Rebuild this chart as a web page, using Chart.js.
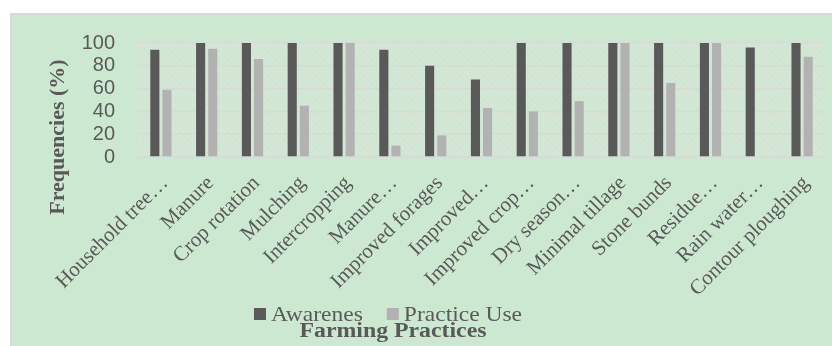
<!DOCTYPE html>
<html>
<head>
<meta charset="utf-8">
<script src="https://cdn.jsdelivr.net/npm/chart.js"></script>
<style>
  body { margin: 0; background: #fff; }
  #box {
    position: absolute; left: 10px; top: 13px;
    width: 820px; height: 331px;
    border-left: 2px solid #d9d9d9; border-top: 2px solid #d9d9d9;
    background: #cde8d1;
  }
</style>
</head>
<body>
<div id="box"><canvas id="practiceChart"></canvas></div>
<script>
  const categories = ["Household tree…", "Manure", "Crop rotation", "Mulching", "Intercropping",
    "Manure…", "Improved forages", "Improved…", "Improved crop…", "Dry season…",
    "Minimal tillage", "Stone bunds", "Residue…", "Rain water…", "Contour ploughing"];
  const awareness = [94, 100, 100, 100, 100, 94, 80, 68, 100, 100, 100, 100, 100, 96, 100];
  const practiceUse = [59, 95, 86, 45, 100, 10, 19, 43, 40, 49, 100, 65, 100, 0, 88];
  const yTicks = [0, 20, 40, 60, 80, 100];

  const textColor = "#595959";
  const serif = "'Liberation Serif', 'Times New Roman', serif";

  // diagonal hatch behind the bars
  const hatchPlugin = {
    id: "hatch",
    beforeDraw(chart) {
      const { ctx, chartArea: a } = chart;
      const p = document.createElement("canvas");
      p.width = 6; p.height = 6;
      const pc = p.getContext("2d");
      pc.strokeStyle = "rgba(226,226,222,0.75)";
      pc.lineWidth = 1.5;
      pc.beginPath();
      pc.moveTo(-1, -1); pc.lineTo(7, 7);
      pc.moveTo(-4, 2); pc.lineTo(4, 10);
      pc.moveTo(2, -4); pc.lineTo(10, 4);
      pc.stroke();
      ctx.save();
      ctx.fillStyle = ctx.createPattern(p, "repeat");
      ctx.fillRect(a.left, a.top, a.right - a.left, a.bottom - a.top);
      ctx.restore();
    }
  };

  // axis titles and legend, placed like the Excel original
  const textPlugin = {
    id: "excelText",
    afterDraw(chart) {
      const ctx = chart.ctx;
      ctx.save();
      ctx.fillStyle = textColor;

      // y title
      ctx.save();
      ctx.translate(46, 122);
      ctx.rotate(-Math.PI / 2);
      ctx.font = "bold 22px " + serif;
      ctx.textAlign = "center";
      ctx.textBaseline = "middle";
      ctx.fillText("Frequencies (%)", 0, 0);
      ctx.restore();

      // x title
      ctx.save();
      ctx.translate(381, 322);
      ctx.scale(1.19, 1);
      ctx.font = "bold 20px " + serif;
      ctx.textAlign = "center";
      ctx.textBaseline = "alphabetic";
      ctx.fillText("Farming Practices", 0, 0);
      ctx.restore();

      // legend
      const sx = 1.12, box = 12, gap = 5, itemGap = 24;
      ctx.font = "21px " + serif;
      const items = chart.data.datasets.map(ds => ({
        label: ds.label, color: ds.backgroundColor,
        w: box + gap + ctx.measureText(ds.label).width * sx
      }));
      const total = items.reduce((s, it) => s + it.w, 0) + itemGap * (items.length - 1);
      let x = 376 - total / 2;
      items.forEach(it => {
        ctx.fillStyle = it.color;
        ctx.fillRect(x, 293, box, box);
        ctx.fillStyle = textColor;
        ctx.save();
        ctx.translate(x + box + gap, 306);
        ctx.scale(sx, 1);
        ctx.textBaseline = "alphabetic";
        ctx.fillText(it.label, 0, 0);
        ctx.restore();
        x += it.w + itemGap;
      });
      ctx.restore();
    }
  };

  const ctx = document.getElementById("practiceChart").getContext("2d");
  const practiceChart = new Chart(ctx, {
    type: "bar",
    data: {
      labels: categories,
      datasets: [
        { label: "Awarenes", data: awareness, backgroundColor: "#595959" },
        { label: "Practice Use", data: practiceUse, backgroundColor: "#b2b2b2" }
      ]
    },
    options: {
      responsive: true,
      maintainAspectRatio: false,
      animation: false,
      barPercentage: 0.75,
      categoryPercentage: 0.53,
      layout: { padding: { top: 28, left: 70, right: 7, bottom: 39 } },
      scales: {
        x: {
          afterFit: (scale) => { scale.height = 150; },
          grid: { display: false },
          border: { display: false },
          ticks: {
            autoSkip: false, maxRotation: 45, minRotation: 45, padding: 6, labelOffset: 4,
            color: textColor, font: { family: serif, size: 21 }
          }
        },
        y: {
          min: 0, max: 100,
          afterBuildTicks: (scale) => { scale.ticks = yTicks.map(v => ({ value: v })); },
          afterFit: (scale) => { scale.width = 56; },
          // invisible tick marks make the gap between labels and plot
          grid: { color: "#d9d9d9", lineWidth: 1.5, drawTicks: true, tickLength: 23, tickColor: "rgba(0,0,0,0)" },
          border: { display: false },
          ticks: {
            autoSkip: false, padding: 0, color: textColor,
            font: { family: "'Liberation Sans', Arial, sans-serif", size: 20 }
          }
        }
      },
      plugins: {
        legend: { display: false },
        tooltip: { enabled: false }
      }
    },
    plugins: [hatchPlugin, textPlugin]
  });
</script>
</body>
</html>
